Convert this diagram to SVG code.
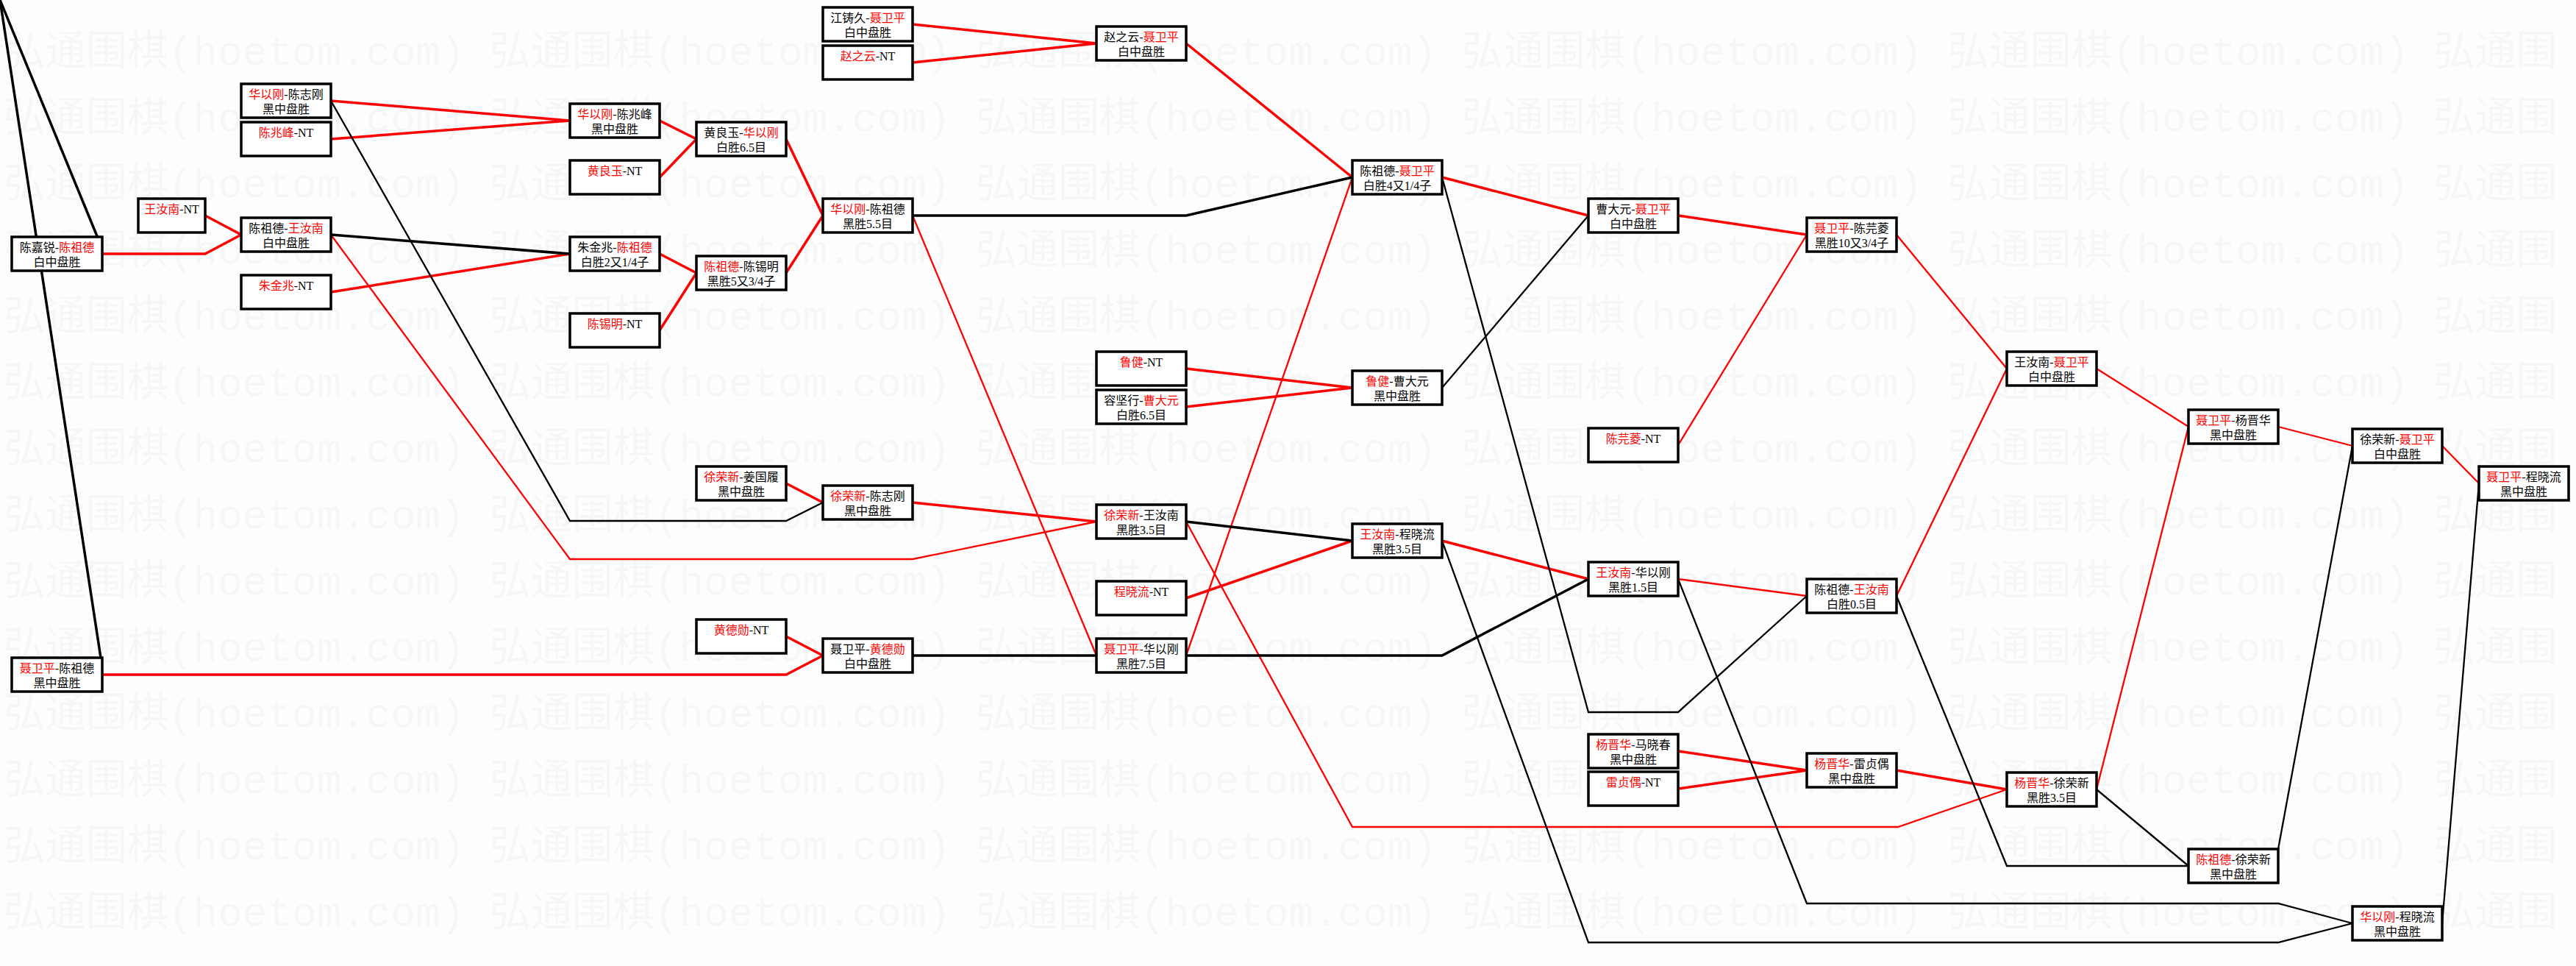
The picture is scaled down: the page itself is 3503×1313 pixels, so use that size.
<svg xmlns="http://www.w3.org/2000/svg" width="3503" height="1313" viewBox="0 0 3503 1313">
<style>
.bg{fill:#fdfdfd}
.wm{font-family:"Liberation Mono","Noto Sans CJK SC",monospace;font-size:56px;fill:#000;fill-opacity:0.028}
.box{fill:#fff;stroke:#000;stroke-width:3.5}
.t{font-family:"Liberation Serif","Noto Sans CJK SC",serif;font-size:16px;fill:#000;text-anchor:middle}
.r{fill:#f00}
.r3{fill:none;stroke:#f00;stroke-width:3.5}
.r2{fill:none;stroke:#f00;stroke-width:2.3}
.b3{fill:none;stroke:#000;stroke-width:3.5}
.b2{fill:none;stroke:#000;stroke-width:2.3}
</style>
<rect class="bg" x="0" y="0" width="3503" height="1313"/>
<g id="watermark" class="wm">
<text x="5" y="88">弘通围棋(hoetom.com) 弘通围棋(hoetom.com) 弘通围棋(hoetom.com) 弘通围棋(hoetom.com) 弘通围棋(hoetom.com) 弘通围</text>
<text x="5" y="178">弘通围棋(hoetom.com) 弘通围棋(hoetom.com) 弘通围棋(hoetom.com) 弘通围棋(hoetom.com) 弘通围棋(hoetom.com) 弘通围</text>
<text x="5" y="268">弘通围棋(hoetom.com) 弘通围棋(hoetom.com) 弘通围棋(hoetom.com) 弘通围棋(hoetom.com) 弘通围棋(hoetom.com) 弘通围</text>
<text x="5" y="358">弘通围棋(hoetom.com) 弘通围棋(hoetom.com) 弘通围棋(hoetom.com) 弘通围棋(hoetom.com) 弘通围棋(hoetom.com) 弘通围</text>
<text x="5" y="448">弘通围棋(hoetom.com) 弘通围棋(hoetom.com) 弘通围棋(hoetom.com) 弘通围棋(hoetom.com) 弘通围棋(hoetom.com) 弘通围</text>
<text x="5" y="538">弘通围棋(hoetom.com) 弘通围棋(hoetom.com) 弘通围棋(hoetom.com) 弘通围棋(hoetom.com) 弘通围棋(hoetom.com) 弘通围</text>
<text x="5" y="628">弘通围棋(hoetom.com) 弘通围棋(hoetom.com) 弘通围棋(hoetom.com) 弘通围棋(hoetom.com) 弘通围棋(hoetom.com) 弘通围</text>
<text x="5" y="718">弘通围棋(hoetom.com) 弘通围棋(hoetom.com) 弘通围棋(hoetom.com) 弘通围棋(hoetom.com) 弘通围棋(hoetom.com) 弘通围</text>
<text x="5" y="808">弘通围棋(hoetom.com) 弘通围棋(hoetom.com) 弘通围棋(hoetom.com) 弘通围棋(hoetom.com) 弘通围棋(hoetom.com) 弘通围</text>
<text x="5" y="898">弘通围棋(hoetom.com) 弘通围棋(hoetom.com) 弘通围棋(hoetom.com) 弘通围棋(hoetom.com) 弘通围棋(hoetom.com) 弘通围</text>
<text x="5" y="988">弘通围棋(hoetom.com) 弘通围棋(hoetom.com) 弘通围棋(hoetom.com) 弘通围棋(hoetom.com) 弘通围棋(hoetom.com) 弘通围</text>
<text x="5" y="1078">弘通围棋(hoetom.com) 弘通围棋(hoetom.com) 弘通围棋(hoetom.com) 弘通围棋(hoetom.com) 弘通围棋(hoetom.com) 弘通围</text>
<text x="5" y="1168">弘通围棋(hoetom.com) 弘通围棋(hoetom.com) 弘通围棋(hoetom.com) 弘通围棋(hoetom.com) 弘通围棋(hoetom.com) 弘通围</text>
<text x="5" y="1258">弘通围棋(hoetom.com) 弘通围棋(hoetom.com) 弘通围棋(hoetom.com) 弘通围棋(hoetom.com) 弘通围棋(hoetom.com) 弘通围</text>
</g>
<g id="connectors">
<path class="b3" d="M0,0 L139,338"/>
<path class="b3" d="M0,0 L137,894"/>
<path class="r3" d="M139,345 H279 L328,319"/>
<path class="r3" d="M279,293 L328,319"/>
<path class="r3" d="M450,137 L775,164"/>
<path class="r3" d="M450,189 L775,164"/>
<path class="r3" d="M450,397 L775,345"/>
<path class="r2" d="M450,319 L775,760 H1241 L1491,709"/>
<path class="r3" d="M897,164 L947,189"/>
<path class="r3" d="M897,241 L947,189"/>
<path class="r3" d="M897,345 L947,371"/>
<path class="r3" d="M897,449 L947,371"/>
<path class="r3" d="M1069,189 L1119,293"/>
<path class="r3" d="M1069,371 L1119,293"/>
<path class="r3" d="M1241,33 L1491,59"/>
<path class="r3" d="M1241,85 L1491,59"/>
<path class="r3" d="M1613,59 L1839,241"/>
<path class="r2" d="M1241,293 L1491,891"/>
<path class="r2" d="M1613,891 L1839,241"/>
<path class="r3" d="M1069,657 L1119,683"/>
<path class="r3" d="M1241,683 L1491,709"/>
<path class="r3" d="M1069,865 L1119,891"/>
<path class="r3" d="M139,917 H1069 L1119,891"/>
<path class="r2" d="M1613,709 L1839,1124 H2581 L2729,1073"/>
<path class="r3" d="M1613,813 L1839,735"/>
<path class="r3" d="M1961,241 L2160,293"/>
<path class="r3" d="M1613,501 L1839,527"/>
<path class="r3" d="M1613,553 L1839,527"/>
<path class="r3" d="M1961,735 L2160,787"/>
<path class="r3" d="M2282,293 L2457,319"/>
<path class="r2" d="M2282,605 L2457,319"/>
<path class="r2" d="M2579,319 L2729,501"/>
<path class="r2" d="M2579,810 L2729,501"/>
<path class="r2" d="M2282,787 L2457,810"/>
<path class="r2" d="M2851,501 L2976,580"/>
<path class="r2" d="M2851,1073 L2976,580"/>
<path class="r2" d="M3098,580 L3199,606"/>
<path class="r2" d="M3321,606 L3371,657"/>
<path class="r3" d="M2282,1021 L2457,1047"/>
<path class="r3" d="M2282,1072 L2457,1047"/>
<path class="r3" d="M2579,1047 L2729,1073"/>
<path class="b2" d="M450,137 L775,708 H1069 L1119,683"/>
<path class="b3" d="M450,319 L775,345"/>
<path class="b3" d="M1241,293 H1613 L1839,241"/>
<path class="b3" d="M1241,891 H1491"/>
<path class="b3" d="M1613,891 H1961 L2160,787"/>
<path class="b3" d="M1613,709 L1839,735"/>
<path class="b2" d="M1961,241 L2160,968 H2282 L2457,810"/>
<path class="b2" d="M1961,527 L2160,293"/>
<path class="b2" d="M1961,735 L2160,1281 H3098 L3199,1255"/>
<path class="b2" d="M2282,787 L2457,1228 H3098 L3199,1255"/>
<path class="b2" d="M2579,810 L2729,1177 H2976"/>
<path class="b2" d="M2851,1073 L2976,1177"/>
<path class="b2" d="M3098,1154 L3199,606"/>
<path class="b2" d="M3321,1255 L3371,657"/>
</g>
<g id="n01"><rect class="box" x="16" y="322" width="123" height="46"/><text class="t" x="77.5" y="342">陈嘉锐-<tspan class="r">陈祖德</tspan></text><text class="t" x="77.5" y="362">白中盘胜</text></g>
<g id="n02"><rect class="box" x="16" y="894" width="123" height="46"/><text class="t" x="77.5" y="914"><tspan class="r">聂卫平</tspan>-陈祖德</text><text class="t" x="77.5" y="934">黑中盘胜</text></g>
<g id="n03"><rect class="box" x="188" y="270" width="91" height="46"/><text class="t" x="233.5" y="290"><tspan class="r">王汝南</tspan>-NT</text></g>
<g id="n04"><rect class="box" x="328" y="114" width="122" height="46"/><text class="t" x="389" y="134"><tspan class="r">华以刚</tspan>-陈志刚</text><text class="t" x="389" y="154">黑中盘胜</text></g>
<g id="n05"><rect class="box" x="328" y="166" width="122" height="46"/><text class="t" x="389" y="186"><tspan class="r">陈兆峰</tspan>-NT</text></g>
<g id="n06"><rect class="box" x="328" y="296" width="122" height="46"/><text class="t" x="389" y="316">陈祖德-<tspan class="r">王汝南</tspan></text><text class="t" x="389" y="336">白中盘胜</text></g>
<g id="n07"><rect class="box" x="328" y="374" width="122" height="46"/><text class="t" x="389" y="394"><tspan class="r">朱金兆</tspan>-NT</text></g>
<g id="n08"><rect class="box" x="775" y="141" width="122" height="46"/><text class="t" x="836" y="161"><tspan class="r">华以刚</tspan>-陈兆峰</text><text class="t" x="836" y="181">黑中盘胜</text></g>
<g id="n09"><rect class="box" x="775" y="218" width="122" height="46"/><text class="t" x="836" y="238"><tspan class="r">黄良玉</tspan>-NT</text></g>
<g id="n10"><rect class="box" x="775" y="322" width="122" height="46"/><text class="t" x="836" y="342">朱金兆-<tspan class="r">陈祖德</tspan></text><text class="t" x="836" y="362">白胜2又1/4子</text></g>
<g id="n11"><rect class="box" x="775" y="426" width="122" height="46"/><text class="t" x="836" y="446"><tspan class="r">陈锡明</tspan>-NT</text></g>
<g id="n12"><rect class="box" x="947" y="166" width="122" height="46"/><text class="t" x="1008" y="186">黄良玉-<tspan class="r">华以刚</tspan></text><text class="t" x="1008" y="206">白胜6.5目</text></g>
<g id="n13"><rect class="box" x="947" y="348" width="122" height="46"/><text class="t" x="1008" y="368"><tspan class="r">陈祖德</tspan>-陈锡明</text><text class="t" x="1008" y="388">黑胜5又3/4子</text></g>
<g id="n14"><rect class="box" x="947" y="634" width="122" height="46"/><text class="t" x="1008" y="654"><tspan class="r">徐荣新</tspan>-姜国履</text><text class="t" x="1008" y="674">黑中盘胜</text></g>
<g id="n15"><rect class="box" x="947" y="842" width="122" height="46"/><text class="t" x="1008" y="862"><tspan class="r">黄德勋</tspan>-NT</text></g>
<g id="n16"><rect class="box" x="1119" y="10" width="122" height="46"/><text class="t" x="1180" y="30">江铸久-<tspan class="r">聂卫平</tspan></text><text class="t" x="1180" y="50">白中盘胜</text></g>
<g id="n17"><rect class="box" x="1119" y="62" width="122" height="46"/><text class="t" x="1180" y="82"><tspan class="r">赵之云</tspan>-NT</text></g>
<g id="n18"><rect class="box" x="1119" y="270" width="122" height="46"/><text class="t" x="1180" y="290"><tspan class="r">华以刚</tspan>-陈祖德</text><text class="t" x="1180" y="310">黑胜5.5目</text></g>
<g id="n19"><rect class="box" x="1119" y="660" width="122" height="46"/><text class="t" x="1180" y="680"><tspan class="r">徐荣新</tspan>-陈志刚</text><text class="t" x="1180" y="700">黑中盘胜</text></g>
<g id="n20"><rect class="box" x="1119" y="868" width="122" height="46"/><text class="t" x="1180" y="888">聂卫平-<tspan class="r">黄德勋</tspan></text><text class="t" x="1180" y="908">白中盘胜</text></g>
<g id="n21"><rect class="box" x="1491" y="36" width="122" height="46"/><text class="t" x="1552" y="56">赵之云-<tspan class="r">聂卫平</tspan></text><text class="t" x="1552" y="76">白中盘胜</text></g>
<g id="n22"><rect class="box" x="1491" y="478" width="122" height="46"/><text class="t" x="1552" y="498"><tspan class="r">鲁健</tspan>-NT</text></g>
<g id="n23"><rect class="box" x="1491" y="530" width="122" height="46"/><text class="t" x="1552" y="550">容坚行-<tspan class="r">曹大元</tspan></text><text class="t" x="1552" y="570">白胜6.5目</text></g>
<g id="n24"><rect class="box" x="1491" y="686" width="122" height="46"/><text class="t" x="1552" y="706"><tspan class="r">徐荣新</tspan>-王汝南</text><text class="t" x="1552" y="726">黑胜3.5目</text></g>
<g id="n25"><rect class="box" x="1491" y="790" width="122" height="46"/><text class="t" x="1552" y="810"><tspan class="r">程晓流</tspan>-NT</text></g>
<g id="n26"><rect class="box" x="1491" y="868" width="122" height="46"/><text class="t" x="1552" y="888"><tspan class="r">聂卫平</tspan>-华以刚</text><text class="t" x="1552" y="908">黑胜7.5目</text></g>
<g id="n27"><rect class="box" x="1839" y="218" width="122" height="46"/><text class="t" x="1900" y="238">陈祖德-<tspan class="r">聂卫平</tspan></text><text class="t" x="1900" y="258">白胜4又1/4子</text></g>
<g id="n28"><rect class="box" x="1839" y="504" width="122" height="46"/><text class="t" x="1900" y="524"><tspan class="r">鲁健</tspan>-曹大元</text><text class="t" x="1900" y="544">黑中盘胜</text></g>
<g id="n29"><rect class="box" x="1839" y="712" width="122" height="46"/><text class="t" x="1900" y="732"><tspan class="r">王汝南</tspan>-程晓流</text><text class="t" x="1900" y="752">黑胜3.5目</text></g>
<g id="n30"><rect class="box" x="2160" y="270" width="122" height="46"/><text class="t" x="2221" y="290">曹大元-<tspan class="r">聂卫平</tspan></text><text class="t" x="2221" y="310">白中盘胜</text></g>
<g id="n31"><rect class="box" x="2160" y="582" width="122" height="46"/><text class="t" x="2221" y="602"><tspan class="r">陈芫菱</tspan>-NT</text></g>
<g id="n32"><rect class="box" x="2160" y="764" width="122" height="46"/><text class="t" x="2221" y="784"><tspan class="r">王汝南</tspan>-华以刚</text><text class="t" x="2221" y="804">黑胜1.5目</text></g>
<g id="n33"><rect class="box" x="2160" y="998" width="122" height="46"/><text class="t" x="2221" y="1018"><tspan class="r">杨晋华</tspan>-马晓春</text><text class="t" x="2221" y="1038">黑中盘胜</text></g>
<g id="n34"><rect class="box" x="2160" y="1049" width="122" height="46"/><text class="t" x="2221" y="1069"><tspan class="r">雷贞偶</tspan>-NT</text></g>
<g id="n35"><rect class="box" x="2457" y="296" width="122" height="46"/><text class="t" x="2518" y="316"><tspan class="r">聂卫平</tspan>-陈芫菱</text><text class="t" x="2518" y="336">黑胜10又3/4子</text></g>
<g id="n36"><rect class="box" x="2457" y="787" width="122" height="46"/><text class="t" x="2518" y="807">陈祖德-<tspan class="r">王汝南</tspan></text><text class="t" x="2518" y="827">白胜0.5目</text></g>
<g id="n37"><rect class="box" x="2457" y="1024" width="122" height="46"/><text class="t" x="2518" y="1044"><tspan class="r">杨晋华</tspan>-雷贞偶</text><text class="t" x="2518" y="1064">黑中盘胜</text></g>
<g id="n38"><rect class="box" x="2729" y="478" width="122" height="46"/><text class="t" x="2790" y="498">王汝南-<tspan class="r">聂卫平</tspan></text><text class="t" x="2790" y="518">白中盘胜</text></g>
<g id="n39"><rect class="box" x="2729" y="1050" width="122" height="46"/><text class="t" x="2790" y="1070"><tspan class="r">杨晋华</tspan>-徐荣新</text><text class="t" x="2790" y="1090">黑胜3.5目</text></g>
<g id="n40"><rect class="box" x="2976" y="557" width="122" height="46"/><text class="t" x="3037" y="577"><tspan class="r">聂卫平</tspan>-杨晋华</text><text class="t" x="3037" y="597">黑中盘胜</text></g>
<g id="n41"><rect class="box" x="2976" y="1154" width="122" height="46"/><text class="t" x="3037" y="1174"><tspan class="r">陈祖德</tspan>-徐荣新</text><text class="t" x="3037" y="1194">黑中盘胜</text></g>
<g id="n42"><rect class="box" x="3199" y="583" width="122" height="46"/><text class="t" x="3260" y="603">徐荣新-<tspan class="r">聂卫平</tspan></text><text class="t" x="3260" y="623">白中盘胜</text></g>
<g id="n43"><rect class="box" x="3199" y="1232" width="122" height="46"/><text class="t" x="3260" y="1252"><tspan class="r">华以刚</tspan>-程晓流</text><text class="t" x="3260" y="1272">黑中盘胜</text></g>
<g id="n44"><rect class="box" x="3371" y="634" width="122" height="46"/><text class="t" x="3432" y="654"><tspan class="r">聂卫平</tspan>-程晓流</text><text class="t" x="3432" y="674">黑中盘胜</text></g>
</svg>
